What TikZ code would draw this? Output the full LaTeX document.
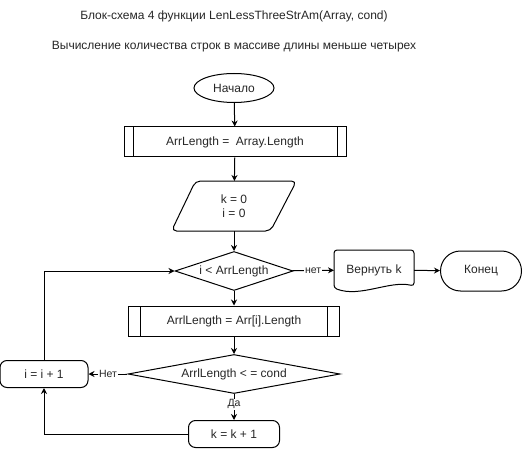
\documentclass[tikz,border=0pt]{standalone}
\usepackage{fontspec}
\setmainfont{Liberation Sans}
\usetikzlibrary{positioning,arrows.meta,shapes.geometric,calc}
\tikzset{
  flow/.style={-{Stealth[length=6pt,width=6pt]}, line width=1pt, draw=black},
  every node/.style={anchor=center}
}

\begin{document}
\begin{tikzpicture}[
  x=1pt, y=-1pt, line width=1pt,
  font=\fontsize{12}{14}\selectfont, text=black!85,
  termoval/.style={ellipse, draw=black, minimum width=80pt, minimum height=29pt, inner sep=0pt},
  termround/.style={draw=black, rounded corners=20pt, minimum width=81pt, minimum height=40pt, inner sep=0pt},
  procbox/.style={draw=black, rounded corners=7pt, minimum height=27pt, inner sep=0pt},
  subbox/.style={draw=black, minimum height=30pt, inner sep=0pt,
    path picture={
      \draw ([xshift=#1]path picture bounding box.north west) -- ([xshift=#1]path picture bounding box.south west);
      \draw ([xshift=-#1]path picture bounding box.north east) -- ([xshift=-#1]path picture bounding box.south east);
    }},
  subbox/.default=10pt,
  iobox/.style={minimum width=124pt, minimum height=49pt, inner sep=0pt, align=center},
  decbox/.style={diamond, draw=black, minimum height=39pt, inner sep=0pt},
  lbl/.style={fill=white, inner sep=1pt, font=\fontsize{10.5}{12}\selectfont}
]
\useasboundingbox (0,0) rectangle (524,449);

% titles
\node (title) at (234,16) {Блок-схема 4 функции LenLessThreeStrAm(Array, cond)};
\node (subtitle) at (234,47) {Вычисление количества строк в массиве длины меньше четырех};

% main vertical chain
\node[termoval] (begin) at (234,88) {Начало};
\node[subbox=9pt, minimum width=222pt] (arrlen) at (235,142) {ArrLength =\ \ Array.Length};
\node[iobox] (init) at (234,206) {k = 0\\i = 0};
\draw[rounded corners=5pt] ($(init.north west)+(24,0)$) -- (init.north east)
  -- ($(init.south east)+(-26,0)$) -- (init.south west) -- cycle;
\node[decbox, aspect=3, minimum width=118pt] (check) at (234,271) {i < ArrLength};
\node[subbox=12pt, minimum width=211pt] (rowlen) at (234,321) {ArrlLength = Arr[i].Length};
\node[decbox, aspect=5.4, minimum width=212pt] (cmp) at (234,374) {ArrlLength < = cond};
\node[procbox, minimum width=91pt] (inck) at (234,434) {k = k + 1};
\node[procbox, minimum width=88pt] (inci) at (44,374) {i = i + 1};

% exit branch
\node[minimum width=79pt, minimum height=39pt, inner sep=0pt] (ret) at (374,270) {Вернуть k};
\draw[rounded corners=3pt] ($(ret.south west)+(0,-2)$) -- (ret.north west) -- (ret.north east)
  -- ($(ret.south east)+(0,-4)$) .. controls (390,280) and (360,298) .. cycle;
\node[termround] (finish) at (481,271) {Конец};

% arrows
\draw[flow] (begin) -- (arrlen);
\draw[flow] (arrlen) -- (init);
\draw[flow] (init) -- (check);
\draw[flow] (check) -- node[lbl] {нет} (ret);
\draw[flow] (ret) -- (finish);
\draw[flow] (check) -- (rowlen);
\draw[flow] (rowlen) -- (cmp);
\draw[flow] (cmp) -- node[lbl, pos=0.4] {Да} (inck);
\draw[flow] (cmp) -- node[lbl] {Нет} (inci);

% loop back
\draw[flow] (inck.west) -| (inci.south);
\draw[flow] (inci.north) |- (check.west);

\end{tikzpicture}
\end{document}
